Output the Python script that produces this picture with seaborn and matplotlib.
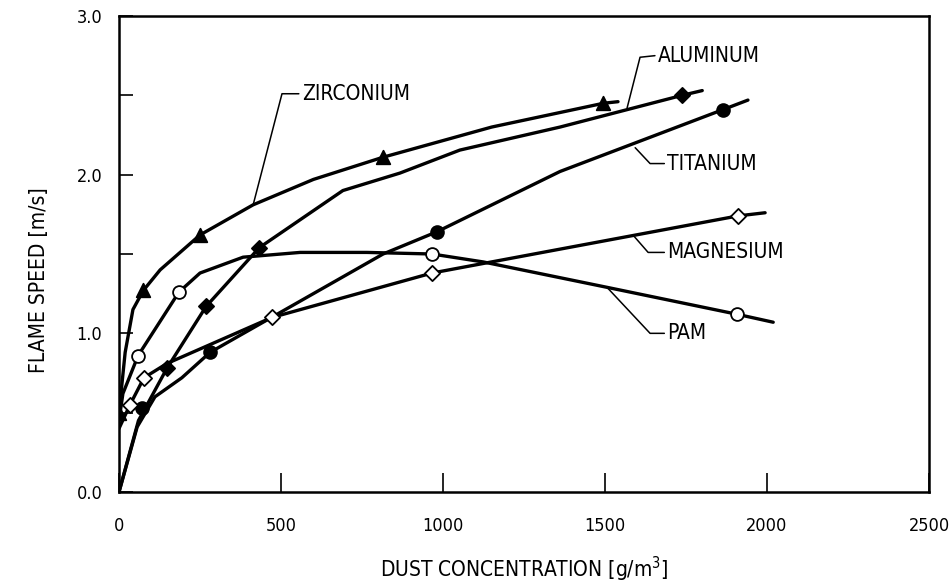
import pandas as pd
import matplotlib
matplotlib.use("Agg")
import matplotlib.pyplot as plt
import seaborn as sns

# curve points (g/m3, m/s)
zr_x = [0, 19, 43, 75, 127, 250, 414, 600, 815, 1150, 1495, 1540]
zr_y = [0.50, 0.88, 1.15, 1.27, 1.40, 1.62, 1.81, 1.97, 2.11, 2.30, 2.45, 2.46]
al_x = [0, 60, 148, 269, 433, 691, 867, 1052, 1361, 1738, 1800]
al_y = [0.0, 0.45, 0.78, 1.17, 1.54, 1.90, 2.01, 2.155, 2.30, 2.50, 2.53]
ti_x = [0, 56, 111, 194, 281, 815, 981, 1361, 1864, 1941]
ti_y = [0.0, 0.41, 0.60, 0.72, 0.88, 1.50, 1.64, 2.02, 2.41, 2.47]
mg_x = [0, 34, 77, 148, 472, 966, 1910, 1994]
mg_y = [0.40, 0.55, 0.72, 0.81, 1.10, 1.38, 1.74, 1.76]
pam_x = [0, 12, 59, 185, 250, 383, 559, 765, 966, 1124, 1506, 1908, 2019]
pam_y = [0.45, 0.62, 0.86, 1.26, 1.38, 1.48, 1.51, 1.51, 1.50, 1.45, 1.29, 1.12, 1.07]

# measured points (markers)
zr_mx = [0, 75, 250, 815, 1495]
zr_my = [0.50, 1.27, 1.62, 2.11, 2.45]
al_mx = [148, 269, 433, 1738]
al_my = [0.78, 1.17, 1.54, 2.50]
ti_mx = [70, 281, 981, 1864]
ti_my = [0.53, 0.88, 1.64, 2.41]
mg_mx = [34, 77, 472, 966, 1910]
mg_my = [0.55, 0.72, 1.10, 1.38, 1.74]
pam_mx = [59, 185, 966, 1908]
pam_my = [0.86, 1.26, 1.50, 1.12]

names = ["ZIRCONIUM", "ALUMINUM", "TITANIUM", "MAGNESIUM", "PAM"]
curves = [(zr_x, zr_y), (al_x, al_y), (ti_x, ti_y), (mg_x, mg_y), (pam_x, pam_y)]
points = [(zr_mx, zr_my), (al_mx, al_my), (ti_mx, ti_my), (mg_mx, mg_my), (pam_mx, pam_my)]
marks = ["^", "D", "o", "D", "o"]
fills = ["black", "black", "black", "white", "white"]
sizes = [95, 60, 85, 60, 85]

# label text anchor, and leader (curve point, elbow)
label_pos = [(565, 2.51), (1662, 2.75), (1691, 2.07), (1691, 1.51), (1691, 1.00)]
leaders = [
    [(414, 1.81), (503, 2.51), (555, 2.51)],
    [(1568, 2.42), (1608, 2.74), (1654, 2.75)],
    [(1593, 2.17), (1639, 2.07), (1683, 2.07)],
    [(1586, 1.62), (1633, 1.51), (1683, 1.51)],
    [(1506, 1.29), (1639, 1.00), (1683, 1.00)],
]

sns.set_theme(style="ticks")
plt.rcParams["font.family"] = ["DejaVu Sans"]
plt.rcParams["font.stretch"] = "condensed"
plt.rcParams["text.color"] = "black"
plt.rcParams["axes.labelcolor"] = "black"
plt.rcParams["xtick.color"] = "black"
plt.rcParams["ytick.color"] = "black"

fig, ax = plt.subplots(figsize=(9.49, 5.86), dpi=100)
fig.subplots_adjust(left=0.1254, right=0.979, bottom=0.1604, top=0.9727)

for (cx, cy), (mx, my), m, fc, s in zip(curves, points, marks, fills, sizes):
    sns.lineplot(x=cx, y=cy, ax=ax, color="black", linewidth=2.4,
                 sort=False, estimator=None)
    sns.scatterplot(x=mx, y=my, ax=ax, marker=m, s=s, color=fc,
                    edgecolor="black", linewidth=1.3, zorder=5)

for name, (tx, ty), lead in zip(names, label_pos, leaders):
    lx = [p[0] for p in lead]
    ly = [p[1] for p in lead]
    ax.plot(lx, ly, color="black", linewidth=1.1)
    ax.text(tx, ty, name, fontsize=15, va="center", ha="left")

ax.set_xlim(0, 2500)
ax.set_ylim(0, 3.0)
ax.set_xticks([0, 500, 1000, 1500, 2000, 2500])
ax.set_yticks([0, 0.5, 1.0, 1.5, 2.0, 2.5, 3.0])
ax.set_yticklabels(["0.0", "", "1.0", "", "2.0", "", "3.0"])
ax.tick_params(axis="x", direction="in", length=14, width=1.2, pad=18, labelsize=13)
ax.tick_params(axis="y", direction="in", length=10, width=1.2, pad=12, labelsize=13)

for sp in ax.spines.values():
    sp.set_linewidth(1.8)
    sp.set_color("black")

ax.set_xlabel("DUST CONCENTRATION [g/m$^3$]", fontsize=15, labelpad=14)
ax.set_ylabel("FLAME SPEED [m/s]", fontsize=15)
ax.yaxis.set_label_coords(-0.087, 0.445)

fig.savefig("out.png", dpi=100)
